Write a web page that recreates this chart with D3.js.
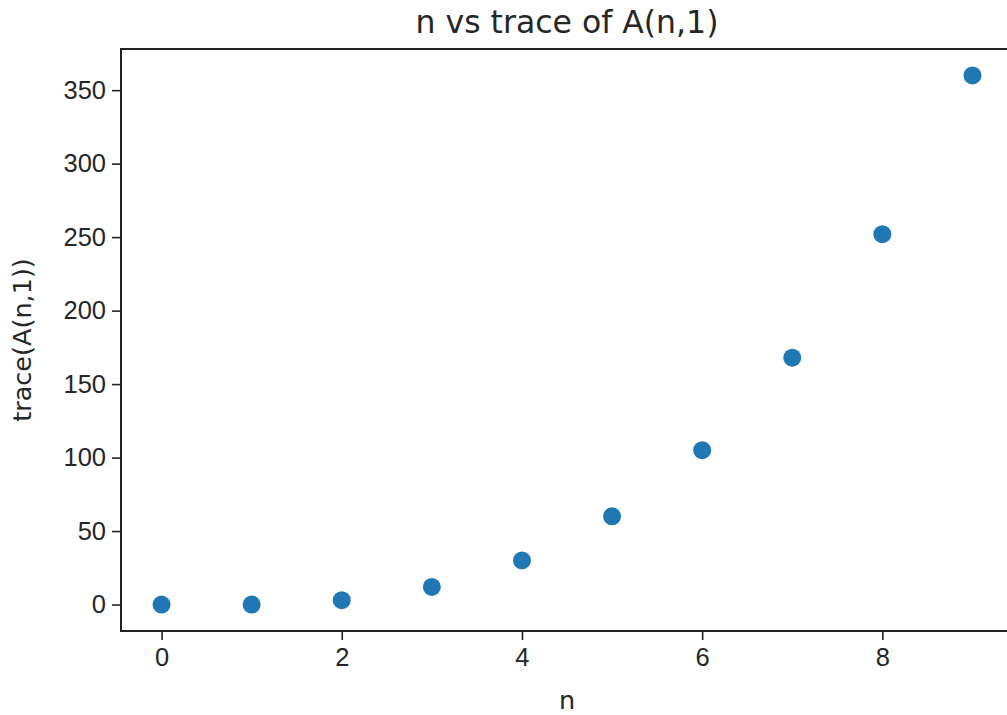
<!DOCTYPE html>
<html>
<head>
<meta charset="utf-8">
<script src="https://cdn.jsdelivr.net/npm/d3@7"></script>
<style>
  body { margin: 0; background: #fff; }
  svg { display: block; font-family: "DejaVu Sans", sans-serif; }
  .tick text { fill: #262626; }
</style>
</head>
<body>
<svg id="chart" width="1007" height="715"></svg>
<script>
// n values and trace(A(n,1))
var nValues = [0, 1, 2, 3, 4, 5, 6, 7, 8, 9];
var traceValues = [0, 0, 3, 12, 30, 60, 105, 168, 252, 360];
var xTicks = [0, 2, 4, 6, 8];
var yTicks = [0, 50, 100, 150, 200, 250, 300, 350];

var svg = d3.select('#chart');
var margin = {left: 121, top: 49, right: 1013, bottom: 631};

// matplotlib style 5% padding on each side
var x = d3.scaleLinear().domain([-0.45, 9.45]).range([margin.left, margin.right]);
var y = d3.scaleLinear().domain([-18, 378]).range([margin.bottom, margin.top]);

var xAxis = svg.append('g')
    .attr('transform', 'translate(0,' + margin.bottom + ')')
    .call(d3.axisBottom(x).tickValues(xTicks).tickSize(9).tickPadding(8).tickFormat(d3.format('d')));
var yAxis = svg.append('g')
    .attr('transform', 'translate(' + margin.left + ',0)')
    .call(d3.axisLeft(y).tickValues(yTicks).tickSize(9).tickPadding(6).tickFormat(d3.format('d')));

[xAxis, yAxis].forEach(function(ax) {
    ax.select('.domain').remove();
    ax.selectAll('.tick line').attr('stroke', '#222').attr('stroke-width', 1.6);
    ax.selectAll('.tick text').attr('font-size', 25.5);
});

// frame (right side falls off the picture)
svg.append('rect')
    .attr('x', margin.left)
    .attr('y', margin.top)
    .attr('width', margin.right - margin.left)
    .attr('height', margin.bottom - margin.top)
    .attr('fill', 'none')
    .attr('stroke', '#222')
    .attr('stroke-width', 2);

svg.append('g').selectAll('circle')
    .data(nValues)
    .enter()
    .append('circle')
        .attr('cx', function(d) { return x(d); })
        .attr('cy', function(d, i) { return y(traceValues[i]); })
        .attr('r', 9)
        .attr('fill', '#1f77b4');

svg.append('text')
    .attr('x', (margin.left + margin.right) / 2)
    .attr('y', 33)
    .attr('text-anchor', 'middle')
    .attr('font-size', 31.5)
    .attr('fill', '#262626')
    .text('n vs trace of A(n,1)');

svg.append('text')
    .attr('x', (margin.left + margin.right) / 2)
    .attr('y', 709)
    .attr('text-anchor', 'middle')
    .attr('font-size', 25.5)
    .attr('fill', '#262626')
    .text('n');

svg.append('text')
    .attr('transform', 'translate(31,' + (margin.top + margin.bottom) / 2 + ') rotate(-90)')
    .attr('text-anchor', 'middle')
    .attr('font-size', 25.5)
    .attr('fill', '#262626')
    .text('trace(A(n,1))');
</script>
</body>
</html>
